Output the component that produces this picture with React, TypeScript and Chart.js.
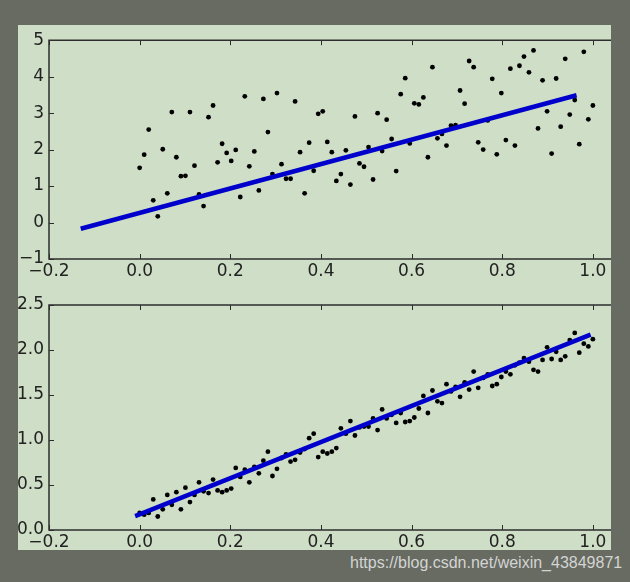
import React, { useEffect, useRef } from "react";
import { Chart, registerables } from "chart.js";

Chart.register(...registerables);

// shared x positions of the samples
const xValues = [
  0.0, 0.01, 0.02, 0.03, 0.04, 0.051, 0.061, 0.071, 0.081, 0.091,
  0.101, 0.111, 0.121, 0.131, 0.141, 0.152, 0.162, 0.172, 0.182, 0.192,
  0.202, 0.212, 0.222, 0.232, 0.242, 0.253, 0.263, 0.273, 0.283, 0.293,
  0.303, 0.313, 0.323, 0.333, 0.343, 0.354, 0.364, 0.374, 0.384, 0.394,
  0.404, 0.414, 0.424, 0.434, 0.444, 0.455, 0.465, 0.475, 0.485, 0.495,
  0.505, 0.515, 0.525, 0.535, 0.545, 0.556, 0.566, 0.576, 0.586, 0.596,
  0.606, 0.616, 0.626, 0.636, 0.646, 0.657, 0.667, 0.677, 0.687, 0.697,
  0.707, 0.717, 0.727, 0.737, 0.747, 0.758, 0.768, 0.778, 0.788, 0.798,
  0.808, 0.818, 0.828, 0.838, 0.848, 0.859, 0.869, 0.879, 0.889, 0.899,
  0.909, 0.919, 0.929, 0.939, 0.949, 0.96, 0.97, 0.98, 0.99, 1.0,
];

// top panel scatter values
const topY = [
  1.5, 1.86, 2.55, 0.61, 0.17, 2.01, 0.8, 3.03, 1.79, 1.27,
  1.28, 3.03, 1.56, 0.77, 0.45, 2.89, 3.21, 1.65, 2.16, 1.91,
  1.69, 1.99, 0.7, 3.46, 1.54, 1.95, 0.88, 3.39, 2.48, 1.33,
  3.55, 1.6, 1.2, 1.2, 3.32, 1.93, 0.8, 2.19, 1.42, 2.98,
  3.05, 2.21, 1.93, 1.14, 1.33, 1.98, 1.04, 2.91, 1.62, 1.53,
  2.07, 1.18, 3.0, 1.96, 2.82, 2.29, 1.41, 3.52, 3.96, 2.17,
  3.27, 3.24, 3.43, 1.79, 4.26, 2.31, 2.43, 2.11, 2.66, 2.67,
  3.62, 3.26, 4.43, 4.26, 2.2, 2.0, 2.8, 3.94, 1.87, 3.55,
  2.26, 4.22, 2.11, 4.3, 4.55, 4.12, 4.72, 2.58, 3.9, 3.05,
  1.89, 3.95, 2.63, 4.49, 2.96, 3.36, 2.15, 4.68, 2.83, 3.21,
];

// bottom panel scatter values
const bottomY = [
  0.19, 0.17, 0.19, 0.34, 0.15, 0.23, 0.39, 0.28, 0.42, 0.23,
  0.47, 0.31, 0.39, 0.53, 0.43, 0.41, 0.56, 0.44, 0.42, 0.44,
  0.46, 0.69, 0.59, 0.67, 0.53, 0.7, 0.63, 0.77, 0.87, 0.6,
  0.68, 0.8, 0.84, 0.76, 0.78, 0.86, 0.9, 1.02, 1.07, 0.81,
  0.87, 0.85, 0.87, 0.91, 1.13, 1.07, 1.21, 1.05, 1.14, 1.15,
  1.15, 1.24, 1.11, 1.34, 1.24, 1.28, 1.19, 1.3, 1.2, 1.21,
  1.25, 1.35, 1.49, 1.3, 1.55, 1.43, 1.41, 1.62, 1.54, 1.59,
  1.48, 1.64, 1.56, 1.76, 1.58, 1.69, 1.73, 1.6, 1.62, 1.7,
  1.76, 1.73, 1.83, 1.86, 1.91, 1.87, 1.78, 1.76, 1.89, 2.03,
  1.9, 1.98, 1.89, 1.93, 2.11, 2.19, 1.97, 2.07, 2.04, 2.12,
];

// fitted lines (end points)
const topFitX = [-0.13, 0.964];
const topFitY = [-0.17, 3.49];
const bottomFitX = [-0.01, 0.995];
const bottomFitY = [0.155, 2.17];

// ticks
const xTicks = [-0.2, 0.0, 0.2, 0.4, 0.6, 0.8, 1.0];
const topYTicks = [-1, 0, 1, 2, 3, 4, 5];
const bottomYTicks = [0.0, 0.5, 1.0, 1.5, 2.0, 2.5];

const PAGE_BG = "#676b61";
const FIG_BG = "#cfdec6";
const FONT = "'DejaVu Sans', sans-serif";

const fmt = (v: number, digits: number) => {
  const s = Math.abs(v).toFixed(digits);
  return v < -1e-9 ? "\u2212" + s : s;
};

const framePlugin = {
  id: "mplFrame",
  afterDatasetsDraw(chart: any) {
    const { ctx, chartArea: a, scales } = chart;
    const sx = scales.x;
    const sy = scales.y;
    ctx.save();
    ctx.strokeStyle = "#2b2b2b";
    ctx.lineWidth = 1;
    const tl = 5;
    ctx.beginPath();
    for (const t of sx.ticks) {
      const px = Math.round(sx.getPixelForValue(t.value)) + 0.5;
      ctx.moveTo(px, a.top);
      ctx.lineTo(px, a.top + tl);
      ctx.moveTo(px, a.bottom);
      ctx.lineTo(px, a.bottom - tl);
    }
    for (const t of sy.ticks) {
      const py = Math.round(sy.getPixelForValue(t.value)) + 0.5;
      ctx.moveTo(a.left, py);
      ctx.lineTo(a.left + tl, py);
    }
    ctx.stroke();
    ctx.lineWidth = 1.5;
    ctx.strokeStyle = "#2e2e2e";
    ctx.beginPath();
    ctx.moveTo(a.right + 2, a.top);
    ctx.lineTo(a.left, a.top);
    ctx.lineTo(a.left, a.bottom);
    ctx.lineTo(a.right + 2, a.bottom);
    ctx.stroke();
    ctx.restore();
  },
};

function makeConfig(
  ys: number[],
  fitX: number[],
  fitY: number[],
  yMin: number,
  yMax: number,
  yTicks: number[],
  yDigits: number,
  padTop: number,
  xAxisHeight: number
): any {
  return {
    type: "scatter",
    data: {
      datasets: [
        {
          type: "line",
          data: fitX.map((x, i) => ({ x, y: fitY[i] })),
          borderColor: "#0000cc",
          borderWidth: 4.5,
          borderCapStyle: "butt",
          pointRadius: 0,
          showLine: true,
          fill: false,
          tension: 0,
          order: 0,
        },
        {
          data: xValues.map((x, i) => ({ x, y: ys[i] })),
          backgroundColor: "#000000",
          borderWidth: 0,
          pointRadius: 2.4,
          order: 1,
        },
      ],
    },
    options: {
      animation: false,
      responsive: false,
      maintainAspectRatio: false,
      events: [],
      layout: { padding: { top: padTop, right: 0, bottom: 0, left: 0 }, autoPadding: false },
      plugins: { legend: { display: false }, tooltip: { enabled: false } },
      scales: {
        x: {
          type: "linear",
          min: -0.2,
          max: 1.04,
          grid: { display: false, drawTicks: false, tickLength: 0 },
          border: { display: false },
          afterBuildTicks: (s: any) => {
            s.ticks = xTicks.map((v) => ({ value: v }));
          },
          afterFit: (s: any) => {
            s.height = xAxisHeight;
          },
          ticks: {
            font: { family: FONT, size: 17 },
            color: "#222222",
            padding: 2,
            maxRotation: 0,
            autoSkip: false,
            callback: (v: number) => fmt(v, 1),
          },
        },
        y: {
          type: "linear",
          min: yMin,
          max: yMax,
          grid: { display: false, drawTicks: false, tickLength: 0 },
          border: { display: false },
          afterBuildTicks: (s: any) => {
            s.ticks = yTicks.map((v) => ({ value: v }));
          },
          afterFit: (s: any) => {
            s.width = 31;
          },
          ticks: {
            font: { family: FONT, size: 17 },
            color: "#222222",
            padding: 5,
            autoSkip: false,
            callback: (v: number) => fmt(v, yDigits),
          },
        },
      },
    },
    plugins: [framePlugin],
  };
}

export default function App() {
  const topRef = useRef<HTMLCanvasElement | null>(null);
  const bottomRef = useRef<HTMLCanvasElement | null>(null);

  useEffect(() => {
    const c1 = new Chart(
      topRef.current as HTMLCanvasElement,
      makeConfig(topY, topFitX, topFitY, -1, 5, topYTicks, 0, 10, 28)
    );
    const c2 = new Chart(
      bottomRef.current as HTMLCanvasElement,
      makeConfig(bottomY, bottomFitX, bottomFitY, 0, 2.5, bottomYTicks, 1, 18, 20)
    );
    return () => {
      c1.destroy();
      c2.destroy();
    };
  }, []);

  return (
    <div
      style={{
        position: "absolute",
        left: 0,
        top: 0,
        width: 630,
        height: 582,
        background: PAGE_BG,
        overflow: "hidden",
      }}
    >
      <div
        style={{
          position: "absolute",
          left: 18,
          top: 25,
          width: 593,
          height: 525,
          background: FIG_BG,
        }}
      />
      <canvas
        ref={topRef}
        width={593}
        height={262}
        style={{ position: "absolute", left: 18, top: 25, width: 593, height: 262 }}
      />
      <canvas
        ref={bottomRef}
        width={593}
        height={263}
        style={{ position: "absolute", left: 18, top: 287, width: 593, height: 263 }}
      />
      <div
        style={{
          position: "absolute",
          left: 350,
          top: 553,
          fontFamily: "'Liberation Sans', Arial, sans-serif",
          fontSize: 16,
          color: "#d4d4d4",
          whiteSpace: "nowrap",
          lineHeight: "19px",
        }}
      >
        https://blog.csdn.net/weixin_43849871
      </div>
    </div>
  );
}
